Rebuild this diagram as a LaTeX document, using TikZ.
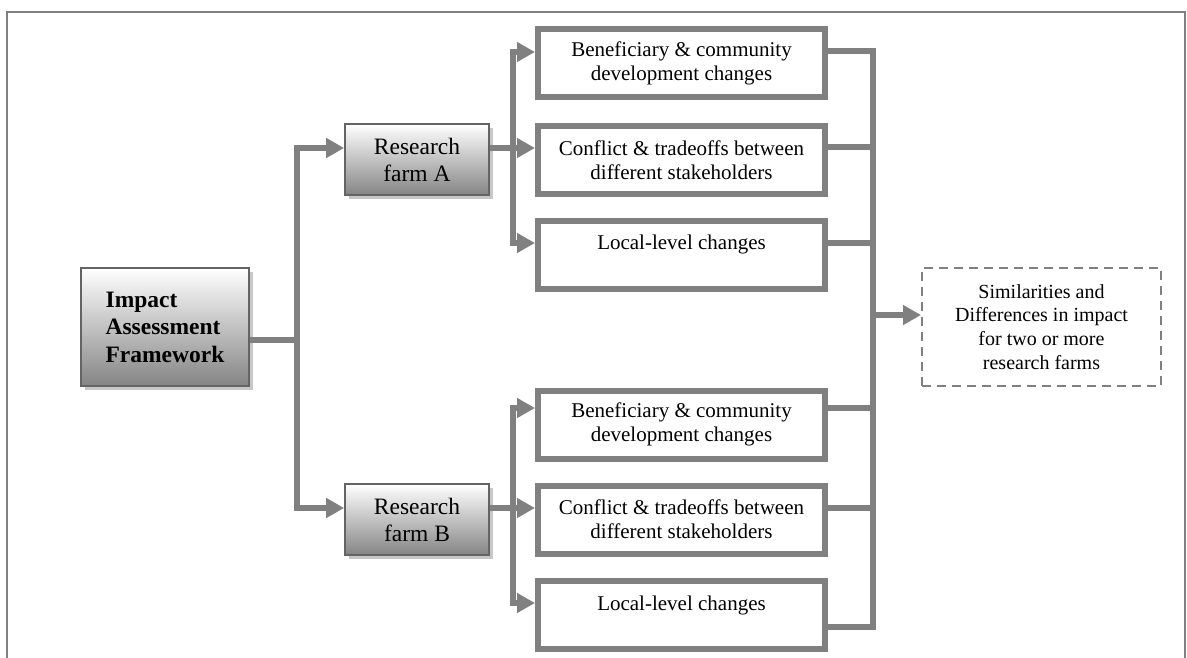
\documentclass[tikz,border=0pt]{standalone}
\usepackage{fontspec}
\setmainfont{Liberation Serif}
\usetikzlibrary{arrows.meta,shadows}
\definecolor{linkgray}{HTML}{808080}
\definecolor{edgegray}{HTML}{646464}
\begin{document}
\begin{tikzpicture}[x=1pt,y=-1pt,
  link/.style={draw=linkgray, line width=6pt},
  arrowlink/.style={link, -{Triangle[length=18pt,width=19pt]}},
  shadedbox/.style={draw=edgegray, line width=1.8pt, top color=white, bottom color=black!48,
    drop shadow={shadow xshift=4pt, shadow yshift=-4pt, fill=black!22, opacity=1},
    inner sep=0pt, align=center},
  farmbox/.style={shadedbox, minimum width=144pt, minimum height=71pt,
    font=\fontsize{23.5}{27}\selectfont},
  changebox/.style={draw=linkgray, line width=6pt, minimum width=287pt, minimum height=68pt,
    inner sep=0pt, align=center, font=\fontsize{21}{24}\selectfont},
  resultbox/.style={draw=linkgray, line width=2pt, dash pattern=on 9pt off 6pt,
    minimum width=239pt, minimum height=118pt, inner sep=0pt, align=center,
    font=\fontsize{20}{23.7}\selectfont}
]
\useasboundingbox (0,0) rectangle (1187,657);

% page frame, open at the bottom
\draw[linkgray, line width=2pt] (7,660) -- (7,12) -- (1185,12) -- (1185,660);

% framework and research farms
\node[shadedbox, minimum width=168pt, minimum height=118pt, align=left,
  font=\bfseries\fontsize{23.5}{27.5}\selectfont] (main) at (165,327)
  {Impact\\Assessment\\Framework};
\node[farmbox] (farmA) at (417,159.5) {Research\\farm A};
\node[farmbox] (farmB) at (417,519.5) {Research\\farm B};

% impact areas for farm A
\node[changebox] (benA)  at (681.5,63)    {Beneficiary \& community\\development changes};
\node[changebox] (confA) at (681.5,160)   {Conflict \& tradeoffs between\\different stakeholders};
\node[changebox] (locA)  at (681.5,254.5) {Local-level changes\\~};

% impact areas for farm B
\node[changebox] (benB)  at (681.5,424.5) {Beneficiary \& community\\development changes};
\node[changebox] (confB) at (681.5,519.5) {Conflict \& tradeoffs between\\different stakeholders};
\node[changebox] (locB)  at (681.5,615)   {Local-level changes\\~};

% comparison
\node[resultbox] (result) at (1041.5,327)
  {Similarities and\\Differences in impact\\for two or more\\research farms};

% framework to farms
\draw[arrowlink] ([yshift=-13pt]main.east) -- ++(47,0) |- ([yshift=11.5pt]farmA.west);
\draw[arrowlink] ([yshift=-13pt]main.east) -- ++(47,0) |- ([yshift=11.5pt]farmB.west);

% farm A to its impact areas
\draw[arrowlink] ([yshift=11.5pt]farmA.east) -- ([yshift=12pt]confA.west);
\draw[arrowlink] ([yshift=11.5pt]farmA.east) -- ++(23,0) |- ([yshift=11pt]benA.west);
\draw[arrowlink] ([yshift=11.5pt]farmA.east) -- ++(23,0) |- ([yshift=11.5pt]locA.west);

% farm B to its impact areas
\draw[arrowlink] ([yshift=11.5pt]farmB.east) -- ([yshift=11.5pt]confB.west);
\draw[arrowlink] ([yshift=11.5pt]farmB.east) -- ++(23,0) |- ([yshift=16.5pt]benB.west);
\draw[arrowlink] ([yshift=11.5pt]farmB.east) -- ++(23,0) |- ([yshift=12pt]locB.west);

% impact areas gathered on the right
\coordinate (hubtop) at ([yshift=12pt, xshift=45pt]benA.east);
\coordinate (hubbot) at ([yshift=-12pt, xshift=45pt]locB.east);
\draw[link] ([yshift=12pt]benA.east) -- (hubtop) -- (hubbot) -- ([yshift=-12pt]locB.east);
\draw[link] ([yshift=13pt]confA.east) -- ++(45,0);
\draw[link] ([yshift=11.5pt]locA.east) -- ++(45,0);
\draw[link] ([yshift=16.5pt]benB.east) -- ++(45,0);
\draw[link] ([yshift=11.5pt]confB.east) -- ++(45,0);

% into the comparison
\coordinate (rin) at ([yshift=12pt]result.west);
\draw[arrowlink] (rin -| hubtop) -- (rin);
\end{tikzpicture}
\end{document}
